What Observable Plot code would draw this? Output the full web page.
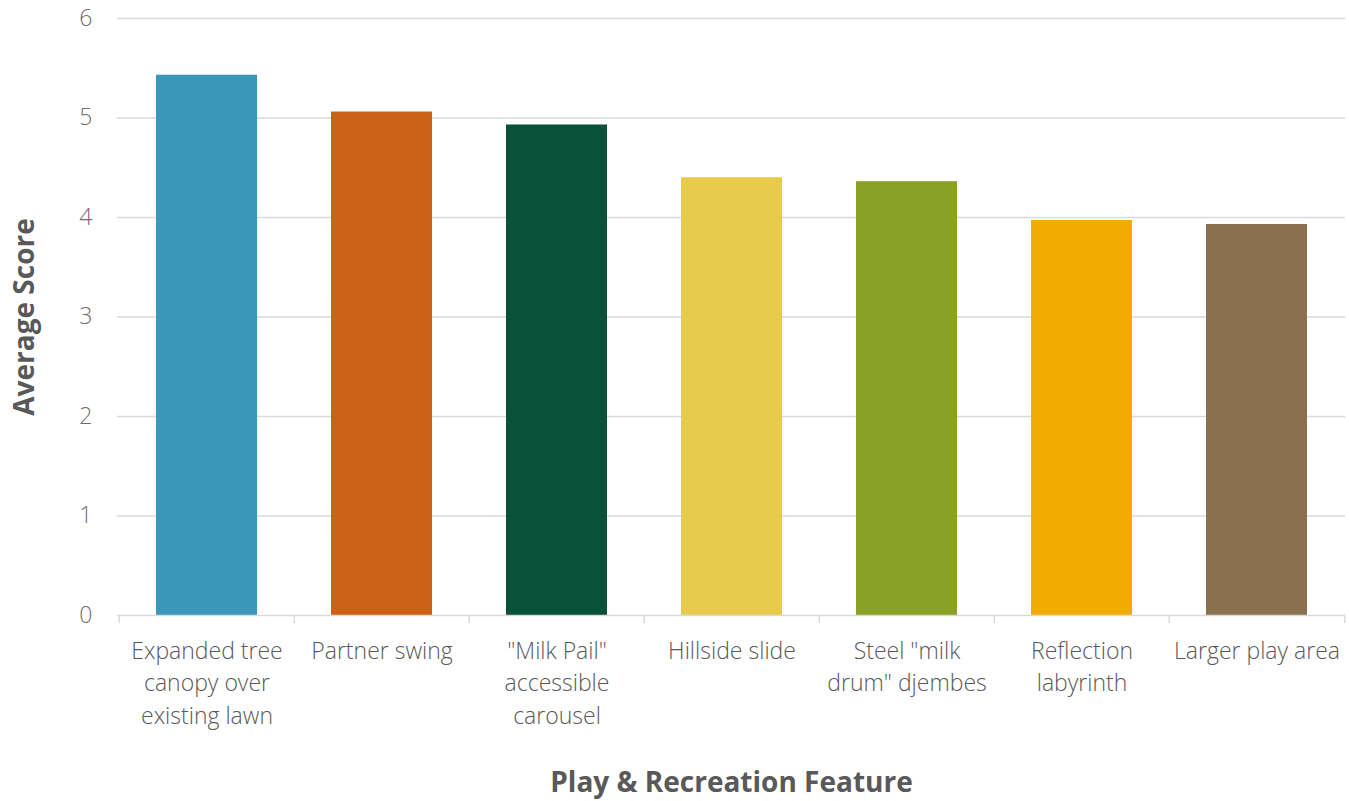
<!DOCTYPE html>
<html>
<head>
<meta charset="utf-8">
<script src="https://cdn.jsdelivr.net/npm/d3@7"></script>
<script src="https://cdn.jsdelivr.net/npm/@observablehq/plot@0.6"></script>
<style>
  html, body { margin: 0; padding: 0; background: #fff; }
  #chart { width: 1349px; height: 801px; }
</style>
</head>
<body>
<div id="chart"></div>
<script>
const features = [
  "Expanded tree canopy over existing lawn",
  "Partner swing",
  "\"Milk Pail\" accessible carousel",
  "Hillside slide",
  "Steel \"milk drum\" djembes",
  "Reflection labyrinth",
  "Larger play area"
];
const tickLabels = [
  "Expanded tree\ncanopy over\nexisting lawn",
  "Partner swing",
  "\"Milk Pail\"\naccessible\ncarousel",
  "Hillside slide",
  "Steel \"milk\ndrum\" djembes",
  "Reflection\nlabyrinth",
  "Larger play area"
];
const scores = [5.43, 5.06, 4.93, 4.40, 4.36, 3.97, 3.93];
const colors = ["#3A97B8", "#CC6218", "#095138", "#E8CB4C", "#8BA027", "#F2AB00", "#8A704E"];
const yTicks = [0, 1, 2, 3, 4, 5, 6];
const yTitle = "Average Score";
const xTitle = "Play & Recreation Feature";

const data = features.map((f, i) => ({feature: f, score: scores[i], color: colors[i]}));
const labelOf = new Map(features.map((f, i) => [f, tickLabels[i]]));

const plotLeft = 117, plotRight = 1349 - 4;
const step = (plotRight - plotLeft) / features.length;

const chart = Plot.plot({
  width: 1349,
  height: 801,
  marginTop: 18,
  marginBottom: 186,
  marginLeft: 117,
  marginRight: 4,
  style: {fontFamily: "'Open Sans', sans-serif", background: "#fff", overflow: "visible"},
  x: {domain: features, paddingInner: 0.425, paddingOuter: 0.2125, label: null},
  y: {domain: [0, 6], label: null},
  marks: [
    Plot.gridY(yTicks.filter(d => d > 0), {stroke: "#d9d9d9", strokeOpacity: 1, strokeWidth: 1.5}),
    Plot.barY(data, {x: "feature", y: "score", fill: "color"}),
    Plot.ruleY([0], {stroke: "#d9d9d9", strokeWidth: 1.5}),
    Plot.ruleX(features, {x: d => d, y1: 0, y2: 0, insetBottom: -8, dx: -step / 2, stroke: "#d9d9d9", strokeWidth: 1.5}),
    Plot.ruleX(features.slice(-1), {x: d => d, y1: 0, y2: 0, insetBottom: -8, dx: step / 2, stroke: "#d9d9d9", strokeWidth: 1.5}),
    Plot.axisY({ticks: yTicks, tickFormat: d3.format("d"), tickSize: 0, tickPadding: 25, fontSize: 23, fontWeight: 300, fill: "#6e6e6e", label: null}),
    Plot.axisX({tickSize: 0, tickPadding: 20, tickFormat: d => labelOf.get(d), fontSize: 23, fontWeight: 300, lineHeight: 1.42, fill: "#595959", label: null}),
    Plot.text([yTitle], {frameAnchor: "left", textAnchor: "middle", text: d => d, rotate: -90, dx: -92, fontSize: 28, fontWeight: "bold", fill: "#595959"}),
    Plot.text([xTitle], {frameAnchor: "bottom", textAnchor: "middle", text: d => d, dy: 176, fontSize: 28, fontWeight: "bold", fill: "#595959"})
  ]
});
document.getElementById("chart").appendChild(chart);
</script>
</body>
</html>
